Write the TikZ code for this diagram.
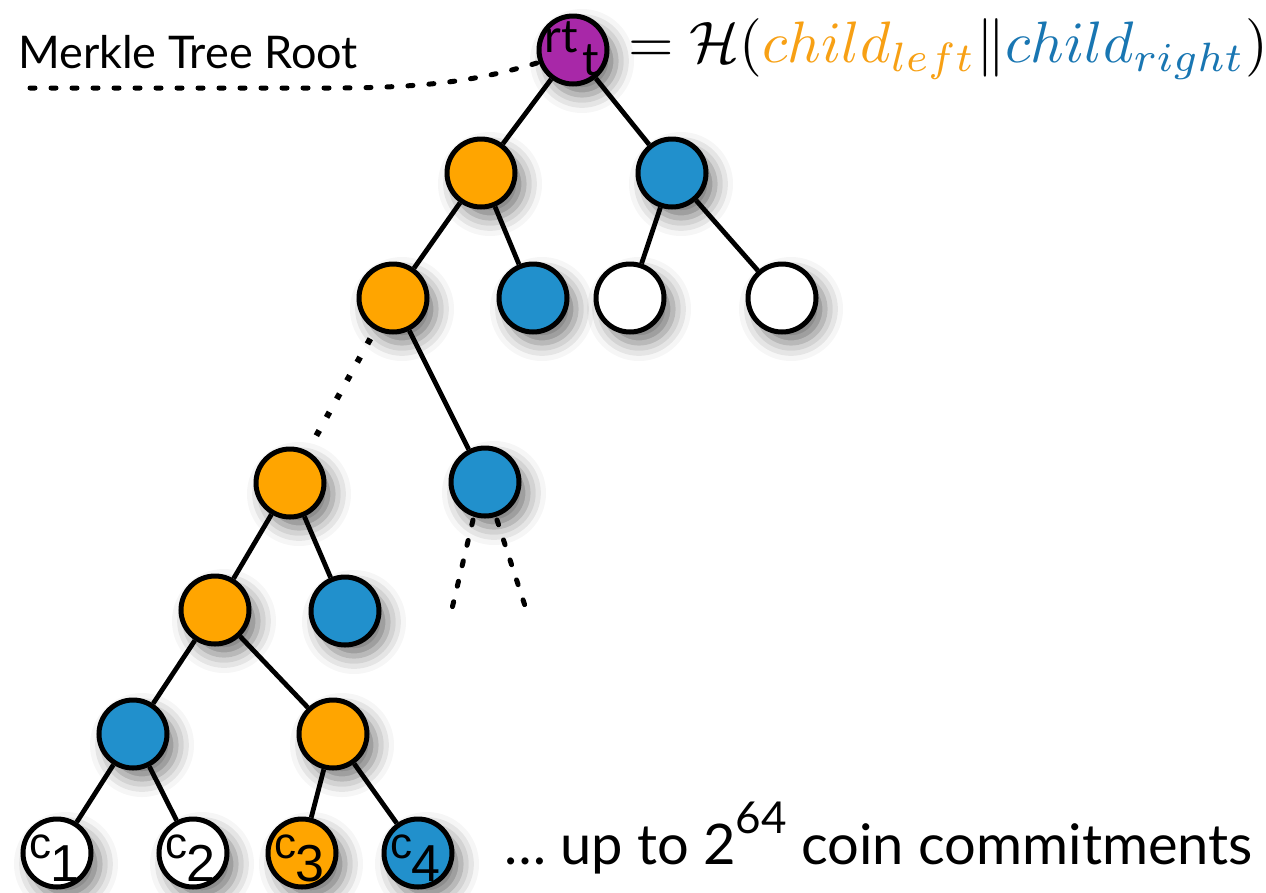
\documentclass[tikz,border=0pt]{standalone}
\usepackage{graphicx}
\usepackage{fontspec}
\newfontfamily\gill{Lato}
\newfontfamily\helv{Liberation Sans}
\usetikzlibrary{shadows.blur,backgrounds,calc}
\definecolor{nodeorange}{RGB}{255,165,0}
\definecolor{nodeblue}{RGB}{33,144,204}
\definecolor{nodepurple}{RGB}{168,40,168}
\definecolor{txtorange}{RGB}{247,160,20}
\definecolor{txtblue}{RGB}{25,118,178}
\begin{document}
\begin{tikzpicture}[x=1pt,y=-1pt,
  tn/.style={circle, draw=black, line width=5pt, minimum size=68pt, inner sep=0pt,
    blur shadow={shadow xshift=9pt, shadow yshift=-11pt, shadow blur radius=18pt, shadow opacity=55}},
  edge/.style={line width=4.8pt},
  dotline/.style={line width=5pt, line cap=round, dash pattern=on 5pt off 16pt},
  sqdots/.style={line width=6pt, dash pattern=on 6pt off 15pt},
  clab/.style={anchor=base, inner sep=0pt, font=\helv\fontsize{44}{44}\selectfont},
  cnum/.style={anchor=base, inner sep=0pt, font=\helv\fontsize{52}{52}\selectfont},
  rtlab/.style={anchor=base, inner sep=0pt, font=\gill\fontsize{46}{46}\selectfont}
]
\useasboundingbox (0,0) rectangle (1266,892);
% nodes
\node[tn, fill=nodepurple] (root) at (573,50) {};
\node[tn, fill=nodeorange] (o1) at (481,173) {};
\node[tn, fill=nodeblue] (b1) at (672,173) {};
\node[tn, fill=nodeorange] (o2) at (393,298) {};
\node[tn, fill=nodeblue] (b2) at (533,298) {};
\node[tn, fill=white] (w1) at (630,298) {};
\node[tn, fill=white] (w2) at (782,298) {};
\node[tn, fill=nodeorange] (o3) at (290,483) {};
\node[tn, fill=nodeblue] (b3) at (485,482) {};
\node[tn, fill=nodeorange] (o4) at (215,610) {};
\node[tn, fill=nodeblue] (b4) at (345,611) {};
\node[tn, fill=nodeblue] (b5) at (133,734) {};
\node[tn, fill=nodeorange] (o5) at (333,734) {};
\node[tn, fill=white] (c1) at (57,853) {};
\node[tn, fill=white] (c2) at (193,853) {};
\node[tn, fill=nodeorange] (c3) at (302,853) {};
\node[tn, fill=nodeblue] (c4) at (418,853) {};
% node labels
\path (root) ++(-12,2) node[rtlab] (rtl) {rt};
\path (root) ++(18,25) node[rtlab] (rts) {t};
\foreach \n/\d in {c1/1,c2/2,c3/3,c4/4}{
  \path (\n) ++(-17,5) node[clab] (\n l) {c};
  \path (\n) ++(8,28) node[cnum] (\n s) {\d};
}
% connectors
\begin{pgfonlayer}{background}
\foreach \a/\b in {root/o1,root/b1,o1/o2,o1/b2,b1/w1,b1/w2,o2/b3,o3/o4,o3/b4,o4/b5,o4/o5,b5/c1,b5/c2,o5/c3,o5/c4}{
  \draw[edge] (\a) -- (\b);
}
\end{pgfonlayer}
\draw[sqdots] ($(o2)!0.22!(o3)$) -- ($(o2)!0.8!(o3)$);
\coordinate (d1s) at (473,520);
\coordinate (d1e) at (450,617);
\coordinate (d2s) at (497,520);
\coordinate (d2e) at (528,615);
\draw[dotline] (d1s) -- (d1e);
\draw[dotline] (d2s) -- (d2e);
% texts
\node[anchor=base west, inner sep=2pt, font=\gill\fontsize{45}{45}\selectfont] (mtr) at (16,68) {Merkle Tree Root};
\coordinate (mstart) at (30,88);
\draw[dotline] (mstart) -- (330,88) .. controls (430,88) and (480,80) .. (root.200);
\node[anchor=west, inner sep=2pt] (eq) at (626,49)
  {\scalebox{5.85}{$=\mathcal{H}(\textcolor{txtorange}{child_{left}}\|\textcolor{txtblue}{child_{right}})$}};
\node[anchor=base west, inner sep=2pt, font=\gill\fontsize{56}{56}\selectfont] (bot) at (502,864)
  {\ldots{} up to 2\raisebox{0.55em}{\fontsize{44}{44}\selectfont 64} coin commitments};
\end{tikzpicture}
\end{document}
